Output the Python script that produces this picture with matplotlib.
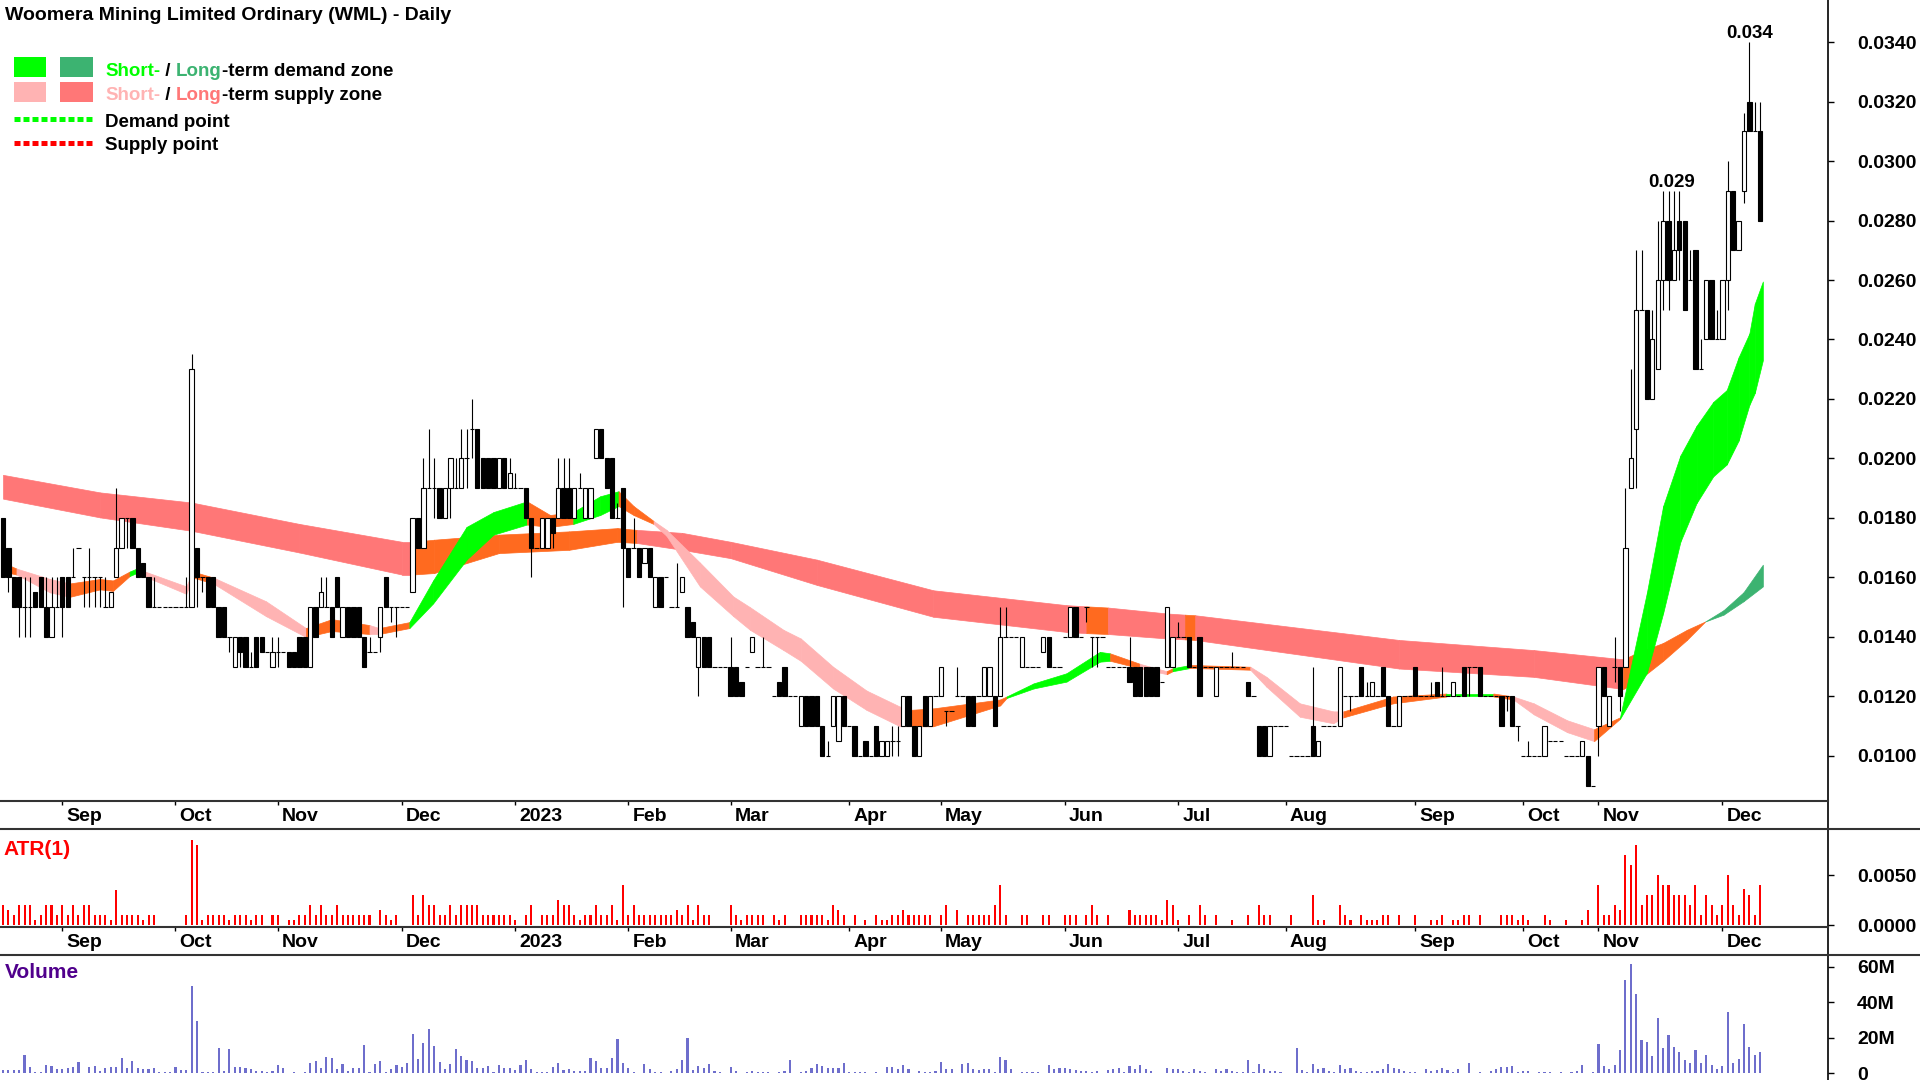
import numpy as np
import matplotlib.pyplot as plt
from matplotlib.patches import Rectangle
from matplotlib.lines import Line2D

plt.rcParams['font.family'] = ['Liberation Sans', 'DejaVu Sans']
plt.rcParams['font.weight'] = 'bold'

title = "Woomera Mining Limited Ordinary (WML) - Daily"

# daily candles (open, high, low, close) in units of 0.001
bars = [
    (18, 18, 16, 16), (17, 17, 15.5, 16), (16, 16, 15, 15), (16, 16, 14, 15), (15, 16, 14, 15), (15, 16, 14, 15), (15.5, 15.5, 15, 15), (16, 16, 15, 15),
    (15, 16, 14, 14), (14, 16, 14, 15), (15, 16, 15, 15), (16, 16, 14, 15), (16, 16, 15, 15), (16, 17, 16, 16), (17, 17, 17, 17), (16, 16, 15, 16),
    (16, 17, 15, 16), (16, 16, 15, 16), (16, 16, 15, 16), (15, 16, 15, 15), (15, 15.5, 15, 15.5), (16, 19, 16, 17), (17, 18, 17, 18), (18, 18, 17, 18),
    (18, 18, 17, 17), (17, 17, 16, 16), (16.5, 16.5, 16, 16), (16, 16, 15, 15), (15, 16, 15, 15), (15, 15, 15, 15), (15, 15, 15, 15), (15, 15, 15, 15),
    (15, 15, 15, 15), (15, 15, 15, 15), (15, 16, 15, 15), (15, 23.5, 15, 23), (17, 17, 15, 16), (16, 16, 15.5, 16), (16, 16, 15, 15), (16, 16, 15, 15),
    (15, 15, 14, 14), (15, 15, 14, 14), (14, 14, 13.5, 14), (13, 14, 13, 14), (14, 14, 13, 13.5), (14, 14, 13, 13), (13, 13.5, 13, 13), (14, 14, 13, 13),
    (14, 14, 13.5, 13.5), (13.5, 13.5, 13.5, 13.5), (13, 14, 13, 13.5), (13.5, 14, 13, 13.5), (13.5, 13.5, 13.5, 13.5), (13.5, 13.5, 13, 13), (13.5, 13.5, 13, 13), (14, 14, 13, 13),
    (14, 14, 13, 13), (13, 15, 13, 15), (15, 15, 14, 14), (15, 16, 15, 15.5), (15, 16, 15, 15), (15, 15, 14, 14), (16, 16, 15, 15), (14, 15, 14, 15),
    (15, 15, 14, 14), (15, 15, 14, 14), (15, 15, 14, 14), (14, 14, 13, 13), (13.5, 14, 13.5, 13.5), (13.5, 13.5, 13.5, 13.5), (14, 15, 13.5, 15), (16, 16, 15, 15),
    (15, 15, 14.5, 15), (15, 15, 14, 15), (15, 15, 15, 15), (15, 15, 15, 15), (15.5, 18, 15.5, 18), (18, 18, 17, 17), (17, 20, 17, 19), (19, 21, 19, 19),
    (19, 20, 18, 19), (19, 19, 18, 18), (18, 19, 18, 19), (19, 20, 18, 20), (19, 20, 19, 19), (19, 21, 19, 20), (20, 21, 19, 20), (21, 22, 20, 21),
    (21, 21, 19, 19), (20, 20, 19, 19), (20, 20, 19, 19), (20, 20, 19, 19), (19, 20, 19, 20), (20, 20, 19, 19), (19, 20, 19, 19.5), (19, 19.5, 19, 19),
    (19, 19, 19, 19), (19, 19, 18, 18), (18, 18, 16, 17), (17, 17, 17, 17), (17, 18, 17, 18), (17, 18, 17, 18), (18, 18, 17, 17.5), (18, 20, 18, 19),
    (19, 20, 18, 18), (19, 20, 18, 18), (18, 19, 18, 19), (19, 19.5, 19, 19), (18, 19, 18, 19), (18, 19, 18, 19), (20, 21, 20, 21), (21, 21, 20, 20),
    (20, 20, 19, 19), (20, 20, 18, 18), (18, 18.5, 18, 18), (19, 19, 15, 17), (17, 17, 16, 16), (17, 18, 17, 17), (17, 17, 16, 16), (16.5, 17, 16.5, 17),
    (17, 17, 16, 16), (15, 16, 15, 16), (16, 16, 15, 15), (16, 16, 16, 16), (15, 15, 15, 15), (15, 16.5, 15, 15), (15.5, 16, 15.5, 16), (15, 15, 14, 14),
    (14.5, 14.5, 14, 14), (13, 14, 12, 14), (14, 14, 13, 13), (14, 14, 13, 13), (13, 13, 13, 13), (13, 13, 13, 13), (13, 13, 13, 13), (13, 14, 12, 12),
    (13, 13, 12, 12), (12.5, 12.5, 12, 12), (13, 13, 13, 13), (13.5, 14, 13.5, 14), (13, 13, 13, 13), (13, 14, 13, 13), (13, 13, 13, 13), (12, 12, 12, 12),
    (12.5, 12.5, 12, 12), (13, 13, 12, 12), (12, 12, 12, 12), (12, 12, 12, 12), (11, 12, 11, 12), (12, 12, 11, 11), (12, 12, 11, 11), (12, 12, 11, 11),
    (11, 11, 10, 10), (10, 10.5, 10, 10), (11, 12, 11, 12), (10.5, 12, 10.5, 12), (12, 12, 11, 11), (11, 11, 11, 11), (11, 11, 10, 10), (10, 10, 10, 10),
    (10.5, 10.5, 10, 10), (10, 10, 10, 10), (11, 11, 10, 10), (10, 10.5, 10, 10.5), (10, 10.5, 10, 10.5), (10.5, 11, 10, 10.5), (10.5, 11, 10, 10.5), (11, 12, 11, 12),
    (12, 12, 11, 11), (11, 11, 10, 10), (10, 11, 10, 11), (12, 12, 11, 11), (11, 12, 11, 12), (12, 12, 12, 12), (12, 13, 12, 13), (11.5, 11.5, 11, 11.5),
    (11.5, 11.5, 11.5, 11.5), (12, 13, 12, 12), (12, 12, 12, 12), (12, 12, 11, 11), (12, 12, 11, 11), (12, 12, 12, 12), (12, 13, 12, 13), (12, 13, 12, 13),
    (12, 12, 11, 11), (12, 15, 12, 14), (14, 15, 14, 14), (14, 14, 14, 14), (14, 14, 14, 14), (13, 14, 13, 14), (13, 13, 13, 13), (13, 13, 13, 13),
    (13, 13, 13, 13), (13.5, 14, 13.5, 14), (14, 14, 13, 13), (13, 13, 13, 13), (13, 13, 13, 13), (14, 14, 14, 14), (14, 15, 14, 15), (15, 15, 14, 14),
    (14, 14, 14, 14), (15, 15, 14.5, 15), (14, 14, 13, 14), (14, 14, 13, 14), (14, 14, 14, 14), (13, 13, 13, 13), (13, 13, 13, 13), (13, 13, 13, 13),
    (13, 13, 13, 13), (13, 14, 12.5, 12.5), (13, 13, 12, 12), (13, 13, 12, 12), (13, 13, 12, 12), (13, 13, 12, 12), (13, 13, 12, 12), (12.5, 12.5, 12.5, 12.5),
    (13, 15, 13, 15), (13, 14, 13, 14), (14, 14.5, 14, 14), (14, 14, 14, 14), (14, 14, 13, 13), (13, 13, 13, 13), (14, 14, 12, 12), (13, 13, 13, 13),
    (13, 13, 13, 13), (12, 13, 12, 13), (13, 13, 13, 13), (13, 13, 13, 13), (13, 13.5, 13, 13), (13, 13, 13, 13), (13, 13, 13, 13), (12.5, 12.5, 12, 12),
    (12, 12, 12, 12), (11, 11, 10, 10), (11, 11, 10, 10), (10, 11, 10, 11), (11, 11, 11, 11), (11, 11, 11, 11), (11, 11, 11, 11), (10, 10, 10, 10),
    (10, 10, 10, 10), (10, 10, 10, 10), (10, 10, 10, 10), (11, 13, 10, 10), (10, 10.5, 10, 10.5), (11, 11, 11, 11), (11, 11, 11, 11), (11, 11, 11, 11),
    (11, 13, 11, 13), (12, 12, 12, 12), (12, 12, 11.5, 12), (12, 12, 12, 12), (13, 13, 12, 12), (12, 12.5, 12, 12), (12, 12.5, 12, 12.5), (12, 12, 12, 12),
    (13, 13, 12, 12), (12, 12, 11, 11), (11, 11, 11, 11), (11, 12, 11, 12), (12, 12, 12, 12), (12, 12, 12, 12), (13, 13, 12, 12), (12, 12, 12, 12),
    (12, 12, 12, 12), (12, 12.5, 12, 12), (12.5, 12.5, 12, 12), (12, 13, 12, 12), (12, 12, 12, 12), (12, 12.5, 12, 12.5), (12, 12, 12, 12), (13, 13, 12, 12),
    (13, 13, 12, 13), (13, 13, 13, 13), (13, 13, 12, 12), (12, 12, 12, 12), (12, 12, 12, 12), (12, 12, 12, 12), (12, 12, 11, 11), (12, 12, 11.5, 12),
    (12, 12, 11, 11), (11, 11, 10.5, 11), (10, 10, 10, 10), (10, 10.5, 10, 10), (10, 10, 10, 10), (10, 10, 10, 10), (10, 11, 10, 11), (10.5, 10.5, 10.5, 10.5),
    (10.5, 10.5, 10.5, 10.5), (10.5, 10.5, 10.5, 10.5), (10, 10, 10, 10), (10, 10, 10, 10), (10, 10, 10, 10), (10, 10.5, 10, 10.5), (10, 10, 9, 9), (9, 9, 9, 9),
    (11, 13, 10, 13), (13, 13, 12, 12), (11, 12, 11, 12), (13, 14, 12.5, 13), (13, 13, 11.5, 12), (13, 19, 13, 17), (19, 23, 19, 20), (21, 27, 19, 25),
    (25, 27, 25, 25), (25, 25, 22, 22), (22, 25, 22, 24), (23, 28, 23, 26), (26, 29, 25, 28), (28, 29, 25, 26), (26, 29, 26, 27), (28, 29, 26, 27),
    (28, 28, 25, 25), (26, 27, 26, 26), (27, 27, 23, 23), (23, 24, 23, 23), (24, 26, 24, 26), (26, 26, 24, 24), (24, 25, 24, 24), (24, 26, 24, 26),
    (26, 30, 25, 29), (29, 29, 27, 27), (27, 28, 27, 28), (29, 31.6, 28.6, 31), (32, 34, 31, 31), (31, 32, 31, 31), (31, 32, 28, 28),
]

# daily volume, millions of shares
volume_m = [
    1.5, 1.7, 1.7, 1.7, 10.1, 3.6, 0.8, 0.8, 4.5, 4.0,
    2.1, 2.1, 2.7, 3.6, 6.4, 0, 3.6, 4.0, 1.1, 2.7,
    3.6, 3.6, 8.6, 2.7, 7.0, 3.0, 2.1, 2.1, 2.7, 0.8,
    0.8, 0.8, 3.6, 1.7, 1.7, 49.0, 29.3, 0.8, 0.8, 0.8,
    13.9, 1.1, 13.3, 3.3, 3.3, 2.7, 2.1, 1.1, 1.1, 0.8,
    1.1, 4.5, 3.0, 0, 0.8, 0, 0.8, 5.5, 7.0, 2.7,
    9.2, 8.6, 2.1, 5.1, 1.1, 3.0, 3.0, 15.8, 0.8, 5.1,
    6.8, 0.8, 2.1, 4.5, 3.6, 5.8, 22.0, 7.7, 17.1, 24.8,
    15.2, 6.4, 2.1, 5.1, 13.3, 9.8, 7.3, 6.8, 2.7, 3.0,
    4.0, 0.8, 4.5, 3.0, 3.0, 1.7, 4.5, 7.3, 2.1, 0.8,
    0.8, 0.5, 3.6, 5.8, 1.7, 2.1, 1.1, 1.1, 1.1, 8.6,
    7.0, 3.0, 3.0, 8.6, 19.0, 5.8, 3.0, 0.8, 0, 5.1,
    2.1, 0.8, 0.8, 0, 1.1, 2.1, 7.3, 19.9, 1.5, 4.0,
    2.7, 5.1, 1.1, 0.8, 0, 3.6, 1.1, 0, 0.8, 1.1,
    0.8, 0.8, 0.8, 0, 0.8, 1.1, 7.3, 0, 0.8, 1.1,
    3.0, 5.1, 4.0, 3.0, 2.7, 3.0, 5.5, 0.8, 0.8, 0.8,
    0.8, 0, 0.8, 0, 3.2, 3.2, 2.1, 4.3, 2.1, 0,
    1.1, 0.8, 0.8, 1.1, 6.0, 2.1, 2.1, 0, 5.1, 5.5,
    2.1, 1.7, 2.1, 2.1, 0.8, 8.8, 7.3, 2.1, 0, 0.8,
    0.8, 0.8, 0.8, 0, 4.3, 2.1, 3.0, 3.0, 2.1, 1.7,
    1.1, 1.1, 0.8, 1.1, 0, 1.7, 2.1, 3.0, 0.8, 4.0,
    2.1, 4.5, 2.1, 1.1, 0, 0, 2.7, 2.1, 2.1, 1.1,
    0.8, 2.1, 1.1, 0.8, 0, 2.1, 1.1, 2.1, 1.1, 0.8,
    0.8, 7.3, 0.8, 4.9, 2.1, 1.1, 1.1, 0.8, 0, 0,
    13.9, 1.7, 0.8, 4.9, 2.1, 2.7, 1.1, 0.8, 4.5, 2.1,
    2.7, 1.1, 0.8, 0.8, 1.1, 1.1, 2.1, 5.1, 2.7, 2.1,
    1.1, 0.8, 0.8, 0, 2.1, 1.1, 1.7, 3.0, 1.7, 0.8,
    2.1, 0, 5.8, 0, 0.8, 0, 1.1, 2.1, 3.2, 3.6,
    4.0, 0.8, 1.1, 1.1, 0, 0.8, 0.8, 0.8, 0, 0.8,
    0, 0.8, 1.1, 4.5, 0, 0.8, 16.4, 4.0, 2.1, 4.5,
    12.9, 52.2, 61.2, 44.3, 18.4, 17.5, 9.5, 30.9, 13.9, 21.4,
    14.5, 12.0, 7.3, 5.8, 12.9, 5.8, 10.1, 4.5, 2.1, 4.0,
    34.4, 5.5, 7.7, 27.6, 14.8, 10.1, 11.8,
]

month_idx = [11, 32, 51, 74, 95, 116, 135, 157, 174, 197, 218, 238, 262, 282, 296, 319]
month_lbl = ['Sep', 'Oct', 'Nov', 'Dec', '2023', 'Feb', 'Mar', 'Apr', 'May', 'Jun',
             'Jul', 'Aug', 'Sep', 'Oct', 'Nov', 'Dec']

# long-term zone: bar position, upper and lower edge (0.001), state of each segment
lt_x = [0, 18, 35, 55, 74, 76, 80, 92, 105, 114, 117.6, 126, 135, 151, 172.6, 197.3, 201, 205,
        216, 219.3, 221.2, 259, 284, 300.6, 303.1, 308, 312.4, 315.8, 319.2, 322.9, 326.5]
lt_hi = [19.45, 18.86, 18.52, 17.8, 17.2, 17.2, 17.27, 17.44, 17.55, 17.66, 17.6, 17.5, 17.2, 16.6,
         15.57, 15.07, 15.03, 14.99, 14.79, 14.75, 14.73, 13.9, 13.56, 13.25, 13.46, 13.8, 14.24,
         14.52, 14.9, 15.5, 16.43]
lt_lo = [18.65, 18.02, 17.57, 16.84, 16.1, 16.1, 16.15, 16.82, 16.93, 17.2, 17.16, 16.93, 16.65,
         15.75, 14.68, 14.17, 14.13, 14.1, 13.95, 13.92, 13.9, 12.94, 12.66, 12.25, 12.5, 13.2, 13.9,
         14.52, 14.75, 15.2, 15.7]
lt_state = "sssss" + "nnnnn" + "ssssss" + "n" + "ss" + "n" + "sss" + "nnnn" + "ddd"

# short-term zone
st_x = [0, 2.5, 8.7, 12.4, 18, 20.4, 23.5, 24.8, 34, 35.2, 39, 48.8, 56.2, 61, 68, 69.8, 75.4, 79.8,
        86, 91, 97.2, 101.5, 105.8, 110.8, 114.2, 117, 120.7, 123.1, 129.3, 135.5, 138.6, 144.8,
        148, 154, 160.2, 166.4, 168.3, 172.6, 185, 186.2, 191.2, 197.3, 203.5, 205.4, 210.9, 215.9,
        217, 220, 222.1, 231.4, 234.4, 240.6, 246.8, 248.7, 257.9, 267.8, 276.5, 280.2, 284, 290.2,
        295.2, 300, 305, 308, 311.2, 314.2, 317.3, 319.8, 322, 324, 325, 326.5]
st_hi = [16.5, 16.3, 15.95, 15.8, 15.95, 15.9, 16.2, 16.3, 15.7, 16.2, 16.0, 15.2, 14.3, 14.6, 14.4,
         14.3, 14.5, 15.9, 17.7, 18.2, 18.56, 18.1, 18.2, 18.73, 18.9, 18.4, 17.9, 17.6, 16.5, 15.36,
         15.0, 14.24, 13.95, 13.0, 12.2, 11.66, 11.55, 11.6, 11.9, 12.0, 12.44, 12.78, 13.5, 13.45,
         13.1, 12.85, 12.95, 13.05, 13.05, 13.0, 12.66, 11.77, 11.5, 11.5, 12.0, 12.1, 12.1, 12.0,
         11.77, 11.2, 10.9, 11.3, 15.5, 18.4, 20.1, 21.1, 21.9, 22.3, 23.4, 24.2, 25.2, 25.95]
st_lo = [16.2, 16.1, 15.5, 15.35, 15.6, 15.55, 16.05, 16.15, 15.45, 16.0, 15.8, 14.7, 14.0, 14.2,
         14.1, 14.1, 14.3, 15.13, 16.6, 17.44, 17.78, 17.7, 17.8, 18.1, 18.4, 18.1, 17.8, 17.4, 15.7,
         14.7, 14.24, 13.56, 13.2, 12.27, 11.55, 11.0, 11.0, 11.0, 11.7, 11.95, 12.27, 12.5, 13.17,
         13.2, 12.95, 12.75, 12.85, 12.95, 12.95, 12.9, 12.33, 11.32, 11.1, 11.3, 11.77, 12.0, 12.0,
         11.9, 11.4, 10.8, 10.5, 11.25, 12.8, 14.8, 17.2, 18.5, 19.4, 19.8, 20.6, 21.8, 22.2, 23.3]
st_state = ("nssnnndssnssnnsnddddnnddnnss" + "ssssssss" + "nnnddddnsndnnssssnndnsssn"
            + "dddddddddd")

peak_windows = [(300, 319), (319, 327)]

# ---------------------------------------------------------------------------
W, H = 1920, 1080
n = min(len(bars), len(volume_m))
o, h, l, c = (np.array(bars[:n], dtype=float).T) / 1000.0
vol = np.array(volume_m[:n]) * 1e6
x = np.arange(n)

step, x0 = 5.39, 3
xlim = (-x0 / step, (1828 - x0) / step)

lt_colors = {'s': '#FF7777', 'n': '#FF6A1F', 'd': '#3CB371'}
st_colors = {'s': '#FFB3B3', 'n': '#FF6A1F', 'd': '#00FF00'}


def fy(py):
    return 1 - py / H


fig = plt.figure(figsize=(W / 100, H / 100), dpi=100)
fig.patch.set_facecolor('white')
ax = fig.add_axes([0, fy(801), 1828 / W, 801 / H])
ax_atr = fig.add_axes([0, fy(927), 1828 / W, 98 / H])
ax_vol = fig.add_axes([0, 0, 1828 / W, 125 / H])

# zones
for xs, hi, lo, st, cols, z in [(lt_x, lt_hi, lt_lo, lt_state, lt_colors, 1),
                                 (st_x, st_hi, st_lo, st_state, st_colors, 2)]:
    hi = np.array(hi) / 1000
    lo = np.array(lo) / 1000
    for k in range(len(xs) - 1):
        col = cols[st[k]]
        ax.fill_between(xs[k:k + 2], lo[k:k + 2], hi[k:k + 2], facecolor=col,
                        edgecolor=col, lw=0.5, zorder=z)

# candles
bw = 0.8
ax.vlines(x, l, h, color='black', lw=0.8, zorder=3)
blo = np.minimum(o, c)
bh = np.abs(c - o)
flat = bh == 0
up = c > o
dn = c < o
ax.bar(x[up], bh[up], bottom=blo[up], width=bw, facecolor='white', edgecolor='black', lw=0.8, zorder=4)
ax.bar(x[dn], bh[dn], bottom=blo[dn], width=bw, facecolor='black', edgecolor='black', lw=0.8, zorder=4)
ax.hlines(c[flat], x[flat] - bw / 2, x[flat] + bw / 2, color='black', lw=0.8, zorder=4)

for a, b in peak_windows:
    seg = h[a:b]
    m = seg.max()
    pos = a + np.where(seg == m)[0].mean()
    ax.annotate(f"{m:.3f}", (pos, m), xytext=(0, 3), textcoords='offset points',
                ha='center', va='baseline', fontsize=13.5, zorder=6)

ax.set_ylim(0.008487, 0.035412)
ax.set_yticks(np.arange(0.010, 0.0341, 0.002))
ax.set_yticklabels([f"{v:.4f}" for v in np.arange(0.010, 0.0341, 0.002)])

# ATR(1) = true range
prev_c = np.r_[c[0], c[:-1]]
tr = np.maximum(h, prev_c) - np.minimum(l, prev_c)
ax_atr.bar(x, tr, width=0.38, color='#FF0000', lw=0)
ax_atr.set_ylim(-0.00017, 0.0096)
ax_atr.set_yticks([0, 0.005])
ax_atr.set_yticklabels(['0.0000', '0.0050'])

# volume
ax_vol.bar(x, vol, width=0.4, color='#6E6ECC', lw=0)
ax_vol.set_ylim(-3.9e6, 66.5e6)
ax_vol.set_yticks([0, 20e6, 40e6, 60e6])
ax_vol.set_yticklabels(['0', '20M', '40M', '60M'])

for a in (ax, ax_atr, ax_vol):
    a.set_xlim(*xlim)
    a.set_facecolor('none')
    for s in a.spines.values():
        s.set_visible(False)
    a.yaxis.tick_right()
    a.tick_params(axis='y', direction='out', length=4, width=1, pad=17, labelsize=14)
    a.set_xticks(month_idx)
    a.tick_params(axis='x', direction='out', length=3, width=1, labelbottom=False)
ax_vol.tick_params(axis='x', bottom=False)

for a in (ax, ax_atr):
    for idx, lab in zip(month_idx, month_lbl):
        a.annotate(lab, xy=(idx, 0), xycoords=('data', 'axes fraction'), xytext=(3, -5),
                   textcoords='offset points', ha='left', va='top', fontsize=14,
                   annotation_clip=False)

# frame lines
lc = '#333333'
fig.add_artist(Line2D([1828 / W, 1828 / W], [0, 1], color='black', lw=1.2))
for py, right in [(801, 1828), (829, W), (927, 1828), (955, W)]:
    fig.add_artist(Line2D([0, right / W], [fy(py), fy(py)], color=lc, lw=1.5))

# title and panel labels
fig.text(5 / W, fy(20), title, fontsize=14, va='baseline')
fig.text(3 / W, fy(855), 'ATR(1)', fontsize=15, va='baseline', color='#FF0000')
fig.text(5 / W, fy(978), 'Volume', fontsize=15, va='baseline', color='#50008C')

# legend
for (x1, x2), y1, col in [((14, 46), 57, '#00FF00'), ((60, 93), 57, '#3CB371'),
                          ((14, 46), 82, '#FFB3B3'), ((60, 93), 82, '#FF7777')]:
    fig.add_artist(Rectangle((x1 / W, fy(y1 + 20)), (x2 - x1) / W, 20 / H,
                             transform=fig.transFigure, facecolor=col, edgecolor='none'))
for py, col in [(119, '#00FF00'), (143, '#FF0000')]:
    fig.add_artist(Line2D([14 / W, 92 / W], [fy(py), fy(py)], color=col, lw=3.6,
                          linestyle=(0, (1.2, 0.6)), solid_capstyle='butt', dash_capstyle='butt'))


def chain(parts, px, py):
    t = fig.text(px / W, fy(py), parts[0][0], color=parts[0][1], fontsize=13.5, va='baseline')
    for s, col in parts[1:]:
        t = ax.annotate(s, xy=(1, 0), xycoords=t, va='bottom', ha='left', color=col,
                        fontsize=13.5, annotation_clip=False)


chain([('Short-', '#00FF00'), (' / ', 'black'), ('Long', '#3CB371'),
       ('-term demand zone', 'black')], 105, 76)
chain([('Short-', '#FFB3B3'), (' / ', 'black'), ('Long', '#FF7777'),
       ('-term supply zone', 'black')], 105, 100)
fig.text(105 / W, fy(127), 'Demand point', fontsize=13.5, va='baseline')
fig.text(105 / W, fy(150), 'Supply point', fontsize=13.5, va='baseline')

fig.savefig('out.png', dpi=100, facecolor='white')
